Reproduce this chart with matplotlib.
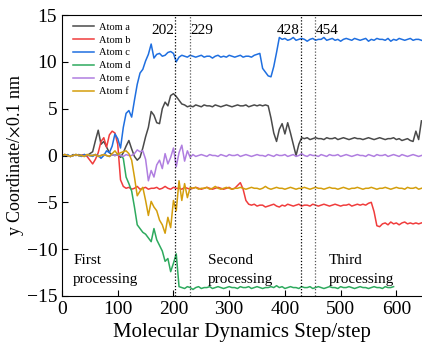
import matplotlib
matplotlib.use("Agg")
import matplotlib.pyplot as plt
import numpy as np

plt.rcParams['font.family'] = ['Liberation Serif', 'DejaVu Serif']
plt.rcParams['mathtext.fontset'] = 'stix'

# molecular dynamics step, every 5 steps
steps = np.arange(0, 650, 5)

atom_a = [0, 0.1, 0, -0.1, 0.1, 0, 0.1, 0, 0.1, 0, 0.2,
          0.4, 1.6, 2.7, 1.2, 1.5, 0.9, 0.3, 0.1, 0, 0.1, -0.2, 0.3, 1.0, 1.6,
          0.7, -0.1, -0.5, -0.2, 0.8, 2.0, 3.0, 4.7, 4.3, 3.5, 3.4, 5.0, 5.7,
          5.3, 6.4, 6.6, 6.3, 5.9, 5.5, 5.4, 5.2,
          5.3, 5.2, 5.4, 5.3, 5.2, 5.4, 5.3, 5.3, 5.2, 5.4, 5.3, 5.2, 5.3, 5.4,
          5.3, 5.2, 5.3, 5.4, 5.3, 5.3, 5.4, 5.2, 5.3, 5.4, 5.3, 5.4, 5.3, 5.4,
          5.3, 4.0, 2.4, 1.5, 2.8, 3.4, 2.3, 3.5, 2.4, 1.2, 0.0, 1.2, 1.9,
          1.8, 1.9, 1.7, 1.8, 1.9, 1.8, 1.8, 1.7, 1.9, 1.8, 1.8, 1.9, 1.7, 1.8,
          1.9, 1.8, 1.7, 1.8, 1.9, 1.8, 1.8, 1.7, 1.8, 1.9, 1.8, 1.7, 1.8, 1.9,
          1.8, 1.7, 1.8, 1.8, 1.9, 1.7, 1.8, 1.6, 1.7, 1.8, 1.6,
          1.5, 2.6, 1.7, 3.7]

atom_b = [0, 0.1, 0, -0.1, 0, 0.1, 0, 0, 0.1, -0.1,
          -0.5, -0.9, -0.4, 0.3, 1.5, 1.9, 0.9, 2.2, 2.6, 2.4, 1.2, -2.6, -3.3,
          -3.5, -3.4, -3.6, -3.5, -3.3, -3.6, -3.5, -3.4, -3.6, -3.5, -3.5, -3.4,
          -3.6, -3.5, -3.3, -3.5, -3.6, -3.4, -3.5, -3.5, -3.6, -3.4, -3.5, -3.6,
          -3.5, -3.4, -3.5, -3.6, -3.5, -3.4, -3.5, -3.6, -3.5, -3.4, -3.5, -3.6,
          -3.5, -3.4, -3.6, -3.5,
          -3.2, -2.9, -3.6, -4.8, -5.2,
          -5.3, -5.2, -5.4, -5.3, -5.3, -5.5, -5.4, -5.3, -5.2, -5.4, -5.5, -5.3,
          -5.4, -5.2, -5.3, -5.4, -5.3, -5.2, -5.4, -5.3, -5.3, -5.4, -5.2, -5.3,
          -5.4, -5.3, -5.2, -5.3, -5.4, -5.3, -5.2, -5.3, -5.4, -5.3, -5.3, -5.2,
          -5.4, -5.3, -5.2, -5.3, -5.2, -5.3,
          -5.1, -5.0, -6.0, -7.5,
          -7.6, -7.3, -7.2, -7.4, -7.1, -7.3, -7.2, -7.4, -7.2, -7.1, -7.3, -7.2,
          -7.3, -7.2, -7.3, -7.2]

atom_c = [0, 0, 0.1, -0.1, 0, 0.1, 0, -0.1, 0.1, 0, 0, -0.1, 0.1, 0,
          -0.3, 0.0, 0.5, 0.3, 1.0, 2.3, 1.8, 0.8, 3.0, 4.5, 4.8, 4.1, 5.9,
          7.6, 8.8, 9.2, 10.1, 10.8, 11.9, 10.4, 10.8, 10.9, 10.6, 10.7, 11.0,
          11.1, 10.9, 10.0, 10.5, 10.7,
          10.6, 10.5, 10.7, 10.6, 10.5, 10.6, 10.7, 10.5, 10.6, 10.6, 10.4, 10.6,
          10.7, 10.5, 10.6, 10.5, 10.7, 10.6, 10.5, 10.6, 10.7, 10.5, 10.6, 10.6,
          10.5, 10.7,
          10.8, 10.9, 9.3, 8.9, 8.5, 8.4, 9.5, 11.0, 12.6,
          12.4, 12.5, 12.3, 12.4, 12.6, 12.3, 12.4, 12.5, 12.4, 12.2, 12.4, 12.5,
          12.3, 12.4, 12.4, 12.6, 12.3, 12.4, 12.5, 12.3, 12.4, 12.2, 12.4, 12.5,
          12.4, 12.3, 12.5, 12.4, 12.3, 12.4, 12.5, 12.2, 12.4, 12.3, 12.5, 12.4,
          12.4, 12.3, 12.5, 12.2, 12.4, 12.3, 12.5, 12.4, 12.3, 12.4, 12.5, 12.3,
          12.4, 12.4, 12.3]

atom_d = [0, 0.1, 0, -0.1, 0, 0.1, 0, 0, -0.1, 0.1, 0, 0, 0.1, -0.1, 0,
          0.1, 0, -0.1, 0.1, 0, 0.2, 0,
          -0.3, -2.3, -3.0, -3.8, -5.5, -7.4, -7.8, -8.2, -8.4, -8.8, -9.2, -7.8,
          -9.0, -9.6, -10.2, -11.3, -11.0, -12.4, -11.5, -10.5, -14.0,
          -14.1, -14.2, -14.0, -14.1, -14.3, -14.1, -14.0, -14.2, -14.1, -14.1,
          -14.0, -14.2, -14.1, -14.0, -14.1, -14.2, -14.1, -14.0, -14.1, -14.1,
          -14.2, -14.0, -14.1, -14.1, -14.0, -14.2, -14.1, -14.0, -14.1, -14.2,
          -14.1, -14.1, -14.0, -14.1, -13.9, -14.1, -14.0, -14.2, -14.1, -14.0,
          -14.1, -14.1, -14.2, -14.0, -14.1, -14.1, -14.0, -14.2, -14.1, -14.0,
          -14.1, -14.2, -14.1, -14.0, -14.1, -14.1, -14.2, -14.0, -14.1, -14.1,
          -14.0, -14.1, -14.2, -14.1, -14.0, -14.1, -14.1, -14.2, -14.1, -14.0,
          -14.1, -14.1, -14.2, -14.0, -14.1, -14.1, -14.0]

atom_e = [0, 0.1, 0, -0.1, 0, 0.1, 0, 0, -0.1, 0.1, 0, 0, 0.1, -0.1, 0,
          0.1, 0, -0.1, 0.1, 0, 0.1, 0, -0.1, 0.1, 0, 0,
          0.2, 0.6, 0.4, 0.5, -0.4, -2.7, -1.6, -2.3, -1.0, -0.5, -1.4, 0.2,
          -0.9, -0.2, 0.8, -1.2, 0.3, 1.1, -0.6, 0.5, -0.2,
          0.1, -0.1, 0, 0.1, 0, -0.1, 0.1, 0, 0, -0.1, 0.1, 0, -0.1, 0.1, 0,
          0, 0.1, -0.1, 0, 0.1, 0, -0.1, 0, 0.1, 0, 0, -0.1, 0.1, 0, -0.1,
          0.1, 0, 0, 0.1, -0.1, 0, 0.1, -0.1, 0, 0.2, 0, -0.1, 0.1, 0, 0,
          -0.1, 0.1, 0, -0.1, 0.1, 0, 0, 0.1, -0.1, 0, 0.1, 0, -0.1, 0, 0.1,
          0, 0, -0.1, 0.1, 0, -0.1, 0.1, 0, 0, 0.1, -0.1, 0, 0.1, 0, -0.1,
          0.1, 0, -0.1, 0, 0.1, 0, -0.1, 0]

atom_f = [0, 0.1, 0, -0.1, 0, 0.1, 0, 0, -0.1, 0.1, 0, 0, 0.1, -0.1, 0,
          0.1, 0, -0.1,
          0.2, 0.5, 0.1, 0.3, 0.4, 0.5, 0.2, -0.5, -2.3, -4.3, -3.8, -3.4,
          -4.8, -6.4, -4.9, -5.5, -5.9, -6.9, -7.4, -8.3, -6.6, -7.7, -4.8,
          -5.9, -2.7, -4.8, -3.0, -4.5, -3.4,
          -3.5, -3.4, -3.6, -3.5, -3.5, -3.4, -3.6, -3.5, -3.3, -3.5, -3.6, -3.5,
          -3.4, -3.5, -3.6, -3.5, -3.5, -3.4, -3.5, -3.6, -3.5, -3.4, -3.5, -3.5,
          -3.6, -3.5, -3.3, -3.5, -3.6, -3.5, -3.4, -3.5, -3.5, -3.6, -3.5, -3.4,
          -3.5, -3.6, -3.5, -3.5, -3.4, -3.5, -3.6, -3.5, -3.4, -3.5, -3.5, -3.6,
          -3.5, -3.4, -3.5, -3.5, -3.6, -3.5, -3.4, -3.5, -3.6, -3.5, -3.5, -3.4,
          -3.5, -3.6, -3.5, -3.5, -3.4, -3.5, -3.6, -3.5, -3.5,
          -3.4, -3.5, -3.6, -3.5, -3.4, -3.5, -3.5, -3.6, -3.4, -3.5, -3.5, -3.4,
          -3.6, -3.5]

series = [("Atom a", atom_a, "#4a4a4a"),
          ("Atom b", atom_b, "#f03c3c"),
          ("Atom c", atom_c, "#1f6fe0"),
          ("Atom d", atom_d, "#2eaa5e"),
          ("Atom e", atom_e, "#b07ee0"),
          ("Atom f", atom_f, "#d49e0c")]

events = [202, 229, 428, 454]
event_colors = ["black", "#555555", "black", "#555555"]
event_align = ["right", "left", "right", "left"]
stages = ["First\nprocessing", "Second\nprocessing", "Third\nprocessing"]
stage_x = [20, 262, 478]

fig = plt.figure(figsize=(4.22, 3.47), dpi=100)
ax = fig.add_axes([62/422, 51/347, 1 - 62/422, 281/347])

for name, vals, col in series:
    n = min(len(vals), len(steps))
    ax.plot(steps[:n], vals[:n], color=col, lw=1.1, label=name)

for x, c, ha in zip(events, event_colors, event_align):
    ax.axvline(x, color=c, ls=(0, (1, 1.5)), lw=0.9)
    off = -1 if ha == "right" else 2
    ax.text(x + off, 13.3, str(x), ha=ha, va="center", fontsize=11)

for t, x in zip(stages, stage_x):
    ax.text(x, -12.2, t, ha="left", va="center", fontsize=11, linespacing=1.55)

ax.set_xlim(0, 646)
ax.set_ylim(-15, 15)
ax.set_xticks([0, 100, 200, 300, 400, 500, 600])
ax.set_yticks([-15, -10, -5, 0, 5, 10, 15])
ax.tick_params(direction="in", labelsize=14, length=4, top=False, right=False)
ax.spines["right"].set_visible(False)
ax.set_xlabel("Molecular Dynamics Step/step", fontsize=15)
ax.set_ylabel("y Coordinate/$\\times$0.1 nm", fontsize=13)
ax.yaxis.set_label_coords(-0.1, 0.5)

ax.legend(loc="upper left", frameon=False, fontsize=7.5, handlelength=2.0,
          handletextpad=0.5, labelspacing=0.35, borderaxespad=0.3,
          bbox_to_anchor=(0.01, 1.0))

fig.savefig("out.png", dpi=100)
